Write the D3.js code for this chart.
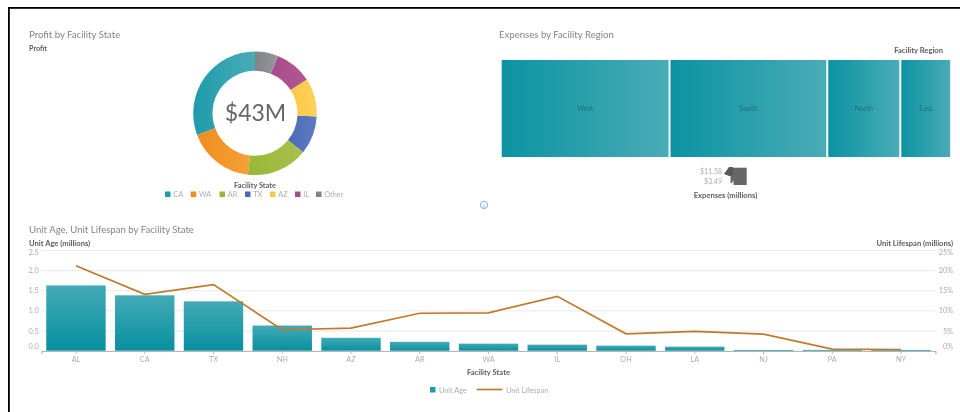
<!DOCTYPE html>
<html><head><meta charset="utf-8">
<style>
html,body{margin:0;padding:0;background:#fff}
svg{display:block;filter:blur(0.5px)}
text{font-family:Lato,"Open Sans",sans-serif}
</style>
<script src="https://cdn.jsdelivr.net/npm/d3@7/dist/d3.min.js"></script>
</head><body><svg id="c" width="960" height="412"></svg>
<script>
const stateCats=["CA","WA","AR","TX","AZ","IL","Other"];
const profitVals=[13.2,7.5,6.9,4.3,4.3,4.2,2.6];
const stateColors=["#1f9bab","#f08d20","#98b737","#4c69b6","#fcc945","#a64c8c","#838488"];
const stateColorsLight=["#4aabb8","#f5a036","#aac04c","#5d7cc2","#ffd158","#b2588f","#96979a"];
const regions=["West","South","North","East"];
const expenses=[11.58,10.82,5.01,3.49];
const barCats=["AL","CA","TX","NH","AZ","AR","WA","IL","OH","LA","NJ","PA","NY"];
const unitAge=[1.62,1.375,1.225,0.625,0.32,0.22,0.175,0.15,0.125,0.1,0.02,0.02,0.02];
const unitLifespan=[21.1,14,16.4,5.2,5.6,9.3,9.4,13.5,4.2,4.8,4.1,0.4,0.3];
const ageTicks=[0,0.5,1,1.5,2,2.5];
const pctTicks=[0,5,10,15,20,25];

const svg=d3.select("#c");
const defs=svg.append("defs");
const TITLE="#858585",LABEL="#adadad",BOLD="#5c5c5c";
function txt(x,y,s,size,fill,weight,anchor){
  return svg.append("text").attr("x",x).attr("y",y).text(s).attr("font-size",size)
    .attr("fill",fill).attr("font-weight",weight||400).attr("text-anchor",anchor||"start");
}
function grad(id,x2,y2,c1,c2){
  const g=defs.append("linearGradient").attr("id",id).attr("x1",0).attr("y1",0).attr("x2",x2).attr("y2",y2);
  g.append("stop").attr("offset","0%").attr("stop-color",c1);
  g.append("stop").attr("offset","100%").attr("stop-color",c2);
}
// frame
svg.append("rect").attr("x",8).attr("y",7).attr("width",952).attr("height",1.8).attr("fill","#000");
svg.append("rect").attr("x",8).attr("y",7).attr("width",1.8).attr("height",405).attr("fill","#000");

// donut
txt(29,37.5,"Profit by Facility State",9.6,TITLE);
txt(29,50.5,"Profit",7.2,BOLD,700);
stateCats.forEach((c,i)=>grad("s"+i,1,0,stateColors[i],stateColorsLight[i]));
const pie=d3.pie().sort(null).startAngle(0).endAngle(-2*Math.PI);
const arc=d3.arc().innerRadius(42.5).outerRadius(61.8);
const dg=svg.append("g").attr("transform","translate(255,113.3)");
dg.selectAll("path").data(pie(profitVals)).join("path").attr("d",arc).attr("fill",(d,i)=>`url(#s${i})`);
txt(255.5,120.5,"$43M",23,"#666",400,"middle");
txt(255,188,"Facility State",7.4,BOLD,700,"middle");
const lgX=[165,190.7,219.5,245,270,295,316];
stateCats.forEach((c,i)=>{
  svg.append("rect").attr("x",lgX[i]).attr("y",191.5).attr("width",5.5).attr("height",5.5).attr("fill",stateColors[i]);
  txt(lgX[i]+8.3,197.2,c,7.3,LABEL);
});

// treemap
txt(499,37.5,"Expenses by Facility Region",9.6,TITLE);
txt(943,53,"Facility Region",7.6,BOLD,700,"end");
grad("tm",1,0,"#0b93a2","#4aacb7");
const root=d3.hierarchy({children:regions.map((r,i)=>({name:r,value:expenses[i]}))}).sum(d=>d.value||0);
d3.treemap().tile(d3.treemapDice).size([448.5,97]).paddingInner(2).round(false)(root);
const tg=svg.append("g").attr("transform","translate(501.7,60)");
const cell=tg.selectAll("g").data(root.leaves()).join("g");
cell.append("rect").attr("x",d=>d.x0).attr("y",d=>d.y0).attr("width",d=>d.x1-d.x0).attr("height",d=>d.y1-d.y0).attr("fill","url(#tm)");
cell.append("text").attr("x",d=>(d.x0+d.x1)/2).attr("y",50.5).attr("text-anchor","middle")
  .attr("font-size",7).attr("fill","#246f7b").text(d=>d.data.name);
// colour legend
txt(722,173.5,"$11.58",7,LABEL,400,"end");
txt(722,183.5,"$3.49",7,LABEL,400,"end");
svg.append("rect").attr("x",729).attr("y",167.7).attr("width",17.7).attr("height",17.3).attr("fill","#666");
svg.append("path").attr("d","M724 174l5-7h4v9h-4z").attr("fill","#5a5a5a");
svg.append("path").attr("d","M728 176h2.5v5h3v4h-5.5z").attr("fill","#fff");
svg.append("rect").attr("x",730.5).attr("y",181).attr("width",2).attr("height",2).attr("fill","#666");
txt(725.5,197.5,"Expenses (millions)",7.6,BOLD,700,"middle");
// info icon
svg.append("circle").attr("cx",484).attr("cy",205).attr("r",3.6).attr("fill","none").attr("stroke","#5b9bd5").attr("stroke-width",.8);
txt(484,207.5,"i",6,"#5b9bd5",400,"middle");

// combo chart
txt(29,232.5,"Unit Age, Unit Lifespan by Facility State",9.6,TITLE);
txt(29,245.5,"Unit Age (millions)",7.6,BOLD,700);
txt(953,245.5,"Unit Lifespan (millions)",7.6,BOLD,700,"end");
const x=d3.scaleBand().domain(barCats).range([41.6,935.4]).paddingInner(0.136).paddingOuter(0.068);
const yL=d3.scaleLinear().domain([0,2.5]).range([350.7,250]);
const yR=d3.scaleLinear().domain([0,25]).range([350.7,250]);
const gridG=svg.append("g").attr("transform","translate(41.6,0)")
  .call(d3.axisLeft(yL).tickValues(ageTicks).tickSize(-893.8).tickFormat(d3.format(".1f")));
gridG.select(".domain").remove();
gridG.selectAll(".tick line").attr("stroke","#e8e8e8");
gridG.selectAll(".tick text").attr("x",-13.1).attr("text-anchor","start").attr("font-size",7.3).attr("fill",LABEL)
  .attr("font-family","Lato").attr("dy",d=>d===0?"-2":d===2.5?"4":"2.5");
const rG=svg.append("g").attr("transform","translate(935.4,0)")
  .call(d3.axisRight(yR).tickValues(pctTicks).tickSize(0).tickFormat(d=>d+"%"));
rG.select(".domain").remove();
rG.selectAll(".tick text").attr("x",17.6).attr("text-anchor","end").attr("font-size",7.3).attr("fill",LABEL)
  .attr("font-family","Lato").attr("dy",d=>d===0?"-2":d===25?"4":"2.5");
grad("bar",0,1,"#44aab6","#07909f");
svg.append("g").selectAll("rect").data(barCats).join("rect")
  .attr("x",d=>x(d)).attr("width",x.bandwidth())
  .attr("y",(d,i)=>yL(unitAge[i])).attr("height",(d,i)=>yL(0)-yL(unitAge[i]))
  .attr("fill","url(#bar)");
const xG=svg.append("g").attr("transform","translate(0,351)")
  .call(d3.axisBottom(x).tickSize(3).tickPadding(3));
xG.select(".domain").attr("stroke","#b5b5b5").attr("stroke-width",1.2);
xG.selectAll(".tick line").attr("stroke","#bbb");
xG.selectAll(".tick text").attr("font-size",7.3).attr("fill",LABEL).attr("font-family","Lato");
svg.append("path").datum(unitLifespan)
  .attr("d",d3.line().x((d,i)=>x(barCats[i])+x.bandwidth()/2).y(d=>yR(d)))
  .attr("fill","none").attr("stroke","#c07a2a").attr("stroke-width",1.7);
txt(488.5,375,"Facility State",7.6,BOLD,700,"middle");
svg.append("rect").attr("x",430).attr("y",387).attr("width",5.5).attr("height",5.5).attr("fill","#1f9bab");
txt(439,392.8,"Unit Age",7.3,LABEL);
svg.append("line").attr("x1",476.7).attr("x2",502.3).attr("y1",389.5).attr("y2",389.5).attr("stroke","#c07a2a").attr("stroke-width",1.7);
txt(506,392.8,"Unit Lifespan",7.3,LABEL);
</script></body></html>
